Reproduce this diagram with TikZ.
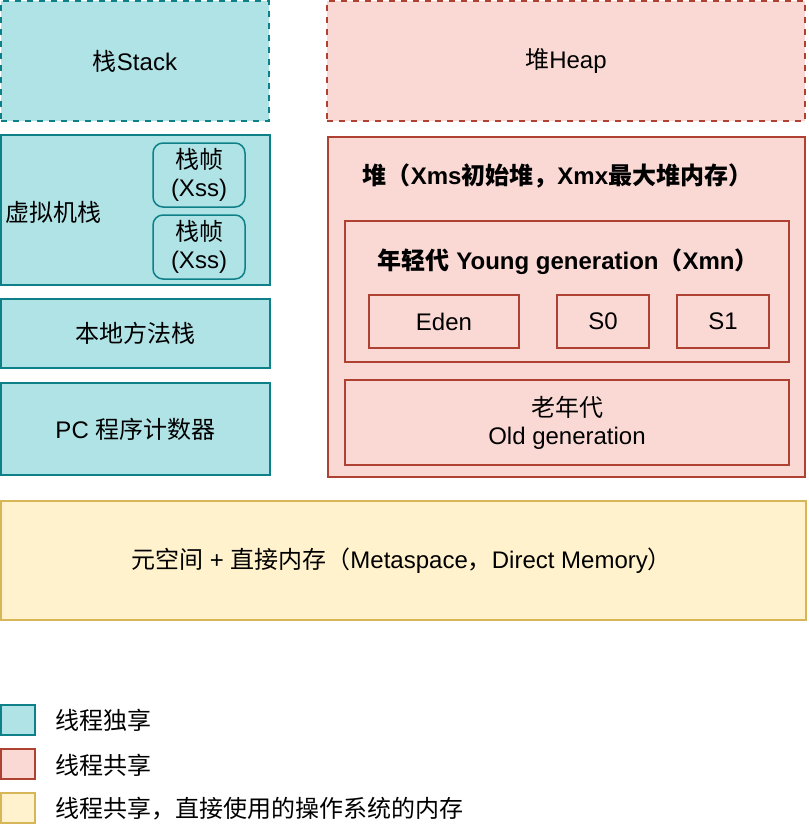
\documentclass[tikz,border=0pt]{standalone}
\usepackage{fontspec}
\setmainfont{Liberation Sans}
\newfontfamily\cjk{Noto Sans CJK SC}
\newcommand{\zh}[1]{{\cjk #1}}
\usetikzlibrary{positioning}
\definecolor{ownfill}{HTML}{B0E3E6}
\definecolor{ownline}{HTML}{0E8088}
\definecolor{sharefill}{HTML}{FAD9D5}
\definecolor{shareline}{HTML}{AE4132}
\definecolor{osfill}{HTML}{FFF2CC}
\definecolor{osline}{HTML}{D6B656}

\begin{document}
\begin{tikzpicture}[x=1pt, y=-1pt, line width=1.5pt,
  every node/.style={font=\fontsize{24}{28}\selectfont, inner sep=0pt, align=center},
  own/.style={draw=ownline, fill=ownfill},
  shared/.style={draw=shareline, fill=sharefill},
  osmem/.style={draw=osline, fill=osfill},
  region/.style={dash pattern=on 6pt off 6pt}]
  \useasboundingbox (0,0) rectangle (808,832);

  % thread private side
  \node[own,region,minimum width=268,minimum height=120] (stack) at (135,61) {\zh{栈}Stack};
  \node[own,minimum width=269,minimum height=150] (jvms) at (135.5,210) {};
  \node[anchor=west] (jvmslabel) at (5,212) {\zh{虚拟机栈}};
  \node[own,rounded corners=10,minimum width=92,minimum height=64] (frame1) at (199,175) {\zh{栈帧}\\(Xss)};
  \node[own,rounded corners=10,minimum width=92,minimum height=64] (frame2) at (199,247) {\zh{栈帧}\\(Xss)};
  \node[own,minimum width=269,minimum height=69] (native) at (135.5,333.5) {\zh{本地方法栈}};
  \node[own,minimum width=269,minimum height=92] (pc) at (135.5,429) {PC \zh{程序计数器}};

  % shared side
  \node[shared,region,minimum width=478,minimum height=120] (heap) at (566,61) {\zh{堆}Heap};
  \node[shared,minimum width=477,minimum height=340] (heapbox) at (566.5,307) {};
  \node[anchor=west,font=\fontsize{24}{28}\selectfont\bfseries] (heaptitle) at (362,176) {\zh{堆（}Xms\zh{初始堆，}Xmx\zh{最大堆内存）}};
  \node[shared,minimum width=444,minimum height=141] (young) at (567,291.5) {};
  \node[anchor=west,font=\fontsize{24}{28}\selectfont\bfseries] (youngtitle) at (377,262) {\zh{年轻代} Young generation\zh{（}Xmn\zh{）}};
  \node[shared,minimum width=150,minimum height=53] (eden) at (444,321.5) {Eden};
  \node[shared,minimum width=92,minimum height=53] (s0) at (603,321.5) {S0};
  \node[shared,minimum width=92,minimum height=53] (s1) at (723,321.5) {S1};
  \node[shared,minimum width=444,minimum height=85] (old) at (567,422.5) {\zh{老年代}\\Old generation};

  \node[osmem,minimum width=805,minimum height=119] (meta) at (403.5,560.5) {\zh{元空间} + \zh{直接内存（}Metaspace\zh{，}Direct Memory\zh{）}\hspace*{4pt}};

  % legend
  \node[own,minimum width=34,minimum height=30] (key1) at (18,720) {};
  \node[shared,minimum width=34,minimum height=30] (key2) at (18,764) {};
  \node[osmem,minimum width=34,minimum height=30] (key3) at (18,808) {};
  \node[anchor=west] (keytext1) at (55,720) {\zh{线程独享}};
  \node[anchor=west] (keytext2) at (55,765) {\zh{线程共享}};
  \node[anchor=west] (keytext3) at (55,809) {\zh{线程共享，直接使用的操作系统的内存}};
\end{tikzpicture}
\end{document}
